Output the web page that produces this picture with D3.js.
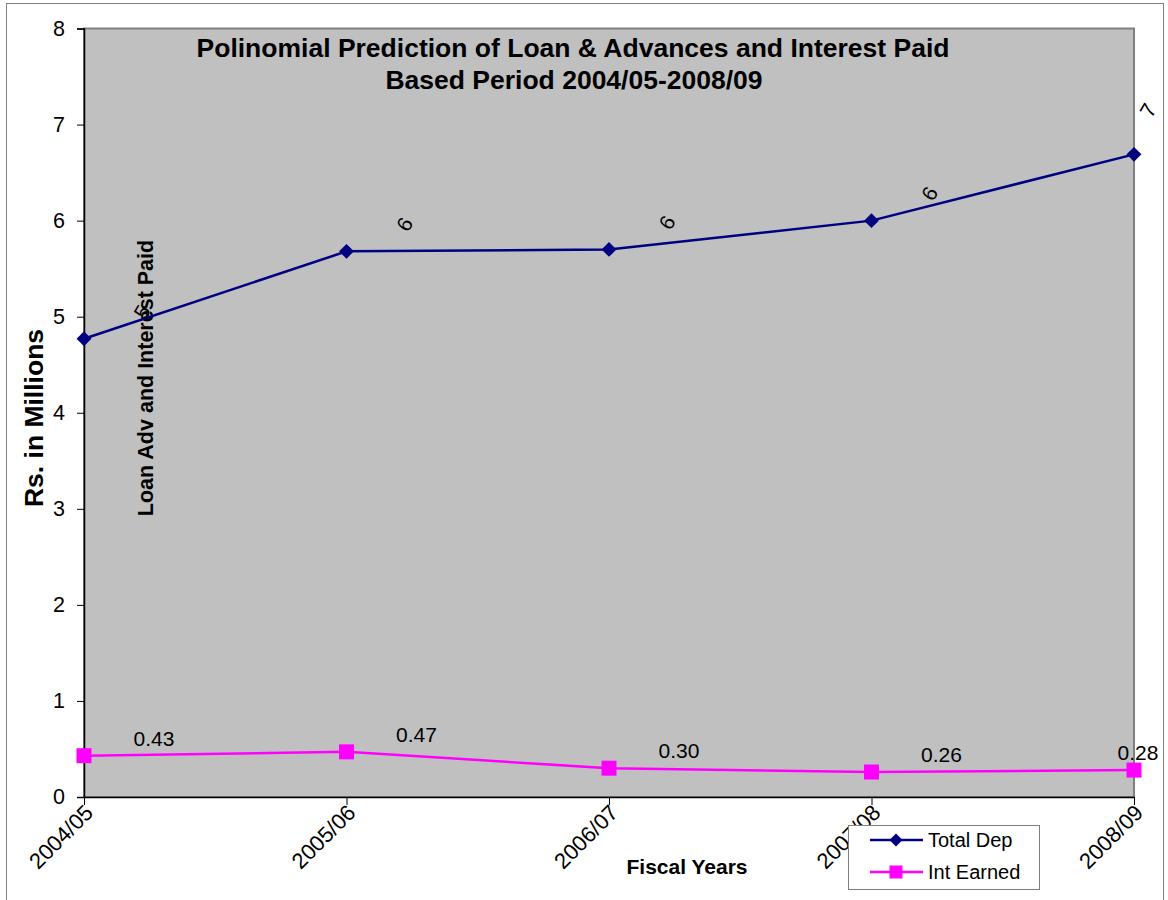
<!DOCTYPE html>
<html><head><meta charset="utf-8">
<script src="https://cdn.jsdelivr.net/npm/d3@7"></script>
<style>body{margin:0;background:#fff;font-family:Arial,"Liberation Sans",sans-serif;}</style>
</head><body>
<svg id="c" width="1168" height="900"></svg>
<script>
const categories = ["2004/05","2005/06","2006/07","2007/08","2008/09"];
const totalDep = [4.77, 5.68, 5.70, 6.00, 6.69];
const intEarned = [0.43, 0.47, 0.30, 0.26, 0.28];
const yTicks = [0,1,2,3,4,5,6,7,8];
const seriesNames = ["Total Dep","Int Earned"];
const titleLines = ["Polinomial Prediction of Loan & Advances and Interest Paid","Based Period 2004/05-2008/09"];

const svg = d3.select("#c");
const L = 84, R = 1134, T = 28.5, B = 797;
const font = "Arial, 'Liberation Sans', sans-serif";

svg.append("rect").attr("x",6.5).attr("y",3.5).attr("width",1157).attr("height",900)
  .attr("fill","#fff").attr("stroke","#808080").attr("stroke-width",1);

const x = d3.scalePoint().domain(categories).range([L,R]);
const y = d3.scaleLinear().domain([0,8]).range([B,T]);

svg.append("rect").attr("x",L).attr("y",T).attr("width",R-L).attr("height",B-T)
  .attr("fill","#c0c0c0").attr("stroke","#808080").attr("stroke-width",2);

// y axis
const ya = svg.append("g").attr("transform",`translate(${L},0)`)
  .call(d3.axisLeft(y).tickValues(yTicks).tickFormat(d3.format("d")).tickSize(7).tickPadding(12));
ya.select(".domain").attr("stroke","#000").attr("stroke-width",1.5);
ya.selectAll(".tick line").attr("stroke","#000");
ya.selectAll("text").attr("font-family",font).attr("font-size",21.5).attr("fill","#000");

// x axis
const xa = svg.append("g").attr("transform",`translate(0,${B})`)
  .call(d3.axisBottom(x).tickSize(8).tickSizeOuter(0));
xa.select(".domain").attr("stroke","#000").attr("stroke-width",1.5);
xa.selectAll(".tick line").attr("stroke","#000");
xa.selectAll("text").attr("font-family",font).attr("font-size",22).attr("fill","#000")
  .attr("text-anchor","end").attr("dy",0).attr("y",0)
  .attr("transform","translate(10,17) rotate(-45)");

// title
svg.append("text").attr("x",573).attr("y",57).attr("text-anchor","middle")
  .attr("font-family",font).attr("font-size",26.5).attr("font-weight","bold").text(titleLines[0]);
svg.append("text").attr("x",574).attr("y",89).attr("text-anchor","middle")
  .attr("font-family",font).attr("font-size",26.5).attr("font-weight","bold").text(titleLines[1]);

// axis titles
svg.append("text").attr("transform","translate(43,418) rotate(-90)").attr("text-anchor","middle")
  .attr("font-family",font).attr("font-size",26.5).attr("font-weight","bold").text("Rs. in Millions");
svg.append("text").attr("x",687).attr("y",874).attr("text-anchor","middle")
  .attr("font-family",font).attr("font-size",21).attr("font-weight","bold").text("Fiscal Years");
svg.append("text").attr("transform","translate(153,378) rotate(-90)").attr("text-anchor","middle")
  .attr("font-family",font).attr("font-size",21.5).attr("font-weight","bold").text("Loan Adv and Interest Paid");

// lines
const line = d3.line().x((d,i)=>x(categories[i])).y(d=>y(d));
svg.append("path").datum(totalDep).attr("d",line).attr("fill","none").attr("stroke","#000080").attr("stroke-width",2.5);
svg.append("path").datum(intEarned).attr("d",line).attr("fill","none").attr("stroke","#ff00ff").attr("stroke-width",2.5);

svg.selectAll(".dia").data(totalDep).enter().append("path")
  .attr("d",d3.symbol(d3.symbolDiamond2,140)())
  .attr("transform",(d,i)=>`translate(${x(categories[i])},${y(d)})`)
  .attr("fill","#000080");
svg.selectAll(".sq").data(intEarned).enter().append("rect")
  .attr("x",(d,i)=>x(categories[i])-7.5).attr("y",d=>y(d)-7.5).attr("width",15).attr("height",15)
  .attr("fill","#ff00ff");

// data labels
svg.selectAll(".ld").data(totalDep).enter().append("text")
  .attr("font-family",font).attr("font-size",21).attr("text-anchor","middle")
  .attr("transform",(d,i)=>{
    const px = i===4 ? x(categories[i])+14 : x(categories[i])+58;
    const py = i===4 ? y(d)-44 : y(d)-27;
    return `translate(${px},${py}) rotate(-60)`;})
  .attr("dy","0.35em").text(d=>d3.format(".0f")(d));
svg.selectAll(".li").data(intEarned).enter().append("text")
  .attr("font-family",font).attr("font-size",21).attr("text-anchor","middle")
  .attr("x",(d,i)=> i===4 ? x(categories[i])+4 : x(categories[i])+70)
  .attr("y",d=>y(d)-10).text(d=>d3.format(".2f")(d));

// legend
const lg = svg.append("g");
lg.append("rect").attr("x",848.5).attr("y",825.5).attr("width",191).attr("height",64)
  .attr("fill","#fff").attr("stroke","#808080");
[0,1].forEach(k=>{
  const yy = 840 + k*32;
  lg.append("line").attr("x1",870).attr("x2",923).attr("y1",yy).attr("y2",yy)
    .attr("stroke", k===0?"#000080":"#ff00ff").attr("stroke-width",2.5);
  if(k===0) lg.append("path").attr("d",d3.symbol(d3.symbolDiamond2,110)()).attr("transform",`translate(896,${yy})`).attr("fill","#000080");
  else lg.append("rect").attr("x",889.5).attr("y",yy-6.5).attr("width",13).attr("height",13).attr("fill","#ff00ff");
  lg.append("text").attr("x",928).attr("y",yy+7).attr("font-family",font).attr("font-size",20).text(seriesNames[k]);
});
</script>
</body></html>
